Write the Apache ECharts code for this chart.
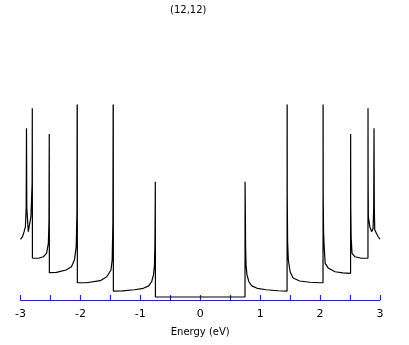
<!DOCTYPE html>
<html>
<head>
<meta charset="utf-8">
<script src="https://cdn.jsdelivr.net/npm/echarts@6/dist/echarts.min.js"></script>
<style>
  html, body { margin: 0; padding: 0; background: #fff; }
  #main { width: 409px; height: 345px; }
</style>
</head>
<body>
<div id="main"></div>
<script>
// energy (eV) and density of states
var energy = [
  -3.000, -2.967, -2.940, -2.918, -2.905, -2.900, -2.895, -2.870, -2.842, -2.826, -2.806, -2.803, -2.801,
  -2.780, -2.700, -2.620, -2.565, -2.535, -2.525, -2.520, -2.518,
  -2.400, -2.240, -2.150, -2.100, -2.070, -2.058, -2.053, -2.051,
  -1.900, -1.670, -1.560, -1.490, -1.470, -1.458, -1.452, -1.450,
  -1.300, -1.100, -0.950, -0.860, -0.810, -0.780, -0.765, -0.757, -0.752, -0.750, -0.748,
  0.747, 0.748, 0.752, 0.757, 0.765, 0.780, 0.810, 0.860, 0.950, 1.100, 1.300, 1.449,
  1.450, 1.452, 1.458, 1.470, 1.500, 1.550, 1.660, 1.830, 2.000, 2.049,
  2.050, 2.052, 2.058, 2.068, 2.085, 2.140, 2.250, 2.380, 2.509,
  2.510, 2.512, 2.518, 2.533, 2.580, 2.690, 2.799,
  2.800, 2.802, 2.806, 2.830, 2.860, 2.885, 2.895, 2.900, 2.905, 2.912, 2.940, 2.970, 3.000
];
var dos = [
  0.623, 0.649, 0.701, 0.752, 0.950, 1.761, 0.950, 0.701, 0.718, 0.854, 1.200, 1.966, 0.428,
  0.428, 0.428, 0.444, 0.479, 0.582, 0.800, 1.703, 0.280,
  0.283, 0.308, 0.342, 0.410, 0.547, 0.900, 2.500, 0.177,
  0.177, 0.198, 0.239, 0.308, 0.410, 0.800, 2.500, 0.092,
  0.094, 0.105, 0.120, 0.145, 0.190, 0.260, 0.350, 0.550, 0.950, 1.213, 0.031,
  0.031, 1.213, 0.950, 0.550, 0.350, 0.260, 0.190, 0.145, 0.120, 0.105, 0.095, 0.092,
  2.500, 1.080, 0.600, 0.410, 0.290, 0.225, 0.195, 0.182, 0.177, 0.177,
  2.500, 1.087, 0.700, 0.550, 0.376, 0.325, 0.290, 0.278, 0.274,
  1.703, 0.944, 0.649, 0.479, 0.444, 0.428, 0.428,
  1.966, 1.200, 0.854, 0.752, 0.701, 0.735, 0.950, 1.761, 0.950, 0.720, 0.684, 0.649, 0.623
];
var title = '(12,12)';
var xName = 'Energy (eV)';

var points = energy.map(function (e, i) { return [e, dos[i]]; });
var axisBlue = '#2424c8';

var chart = echarts.init(document.getElementById('main'));
chart.setOption({
  animation: false,
  title: {
    text: title,
    left: 165,
    top: 0,
    textStyle: { fontSize: 10, fontWeight: 'normal', color: '#000', fontFamily: 'DejaVu Sans' }
  },
  grid: { left: 20.5, right: 29, top: 105, bottom: 45 },
  xAxis: {
    type: 'value',
    min: -3,
    max: 3,
    interval: 1,
    name: xName,
    nameLocation: 'middle',
    nameGap: 27,
    nameTextStyle: { fontSize: 10, color: '#000', fontFamily: 'DejaVu Sans' },
    axisLine: { lineStyle: { color: axisBlue, width: 1 } },
    axisTick: { inside: true, length: 5, lineStyle: { color: axisBlue, width: 1.2 } },
    minorTick: { show: true, splitNumber: 2, length: 5, lineStyle: { color: axisBlue, width: 1.2 } },
    axisLabel: {
      color: '#000', fontSize: 11, margin: 9, fontFamily: 'DejaVu Sans',
      formatter: function (v) { return String(v); }
    },
    splitLine: { show: false }
  },
  yAxis: {
    type: 'value',
    min: 0,
    max: 2,
    show: false
  },
  series: [{
    type: 'line',
    data: points,
    showSymbol: false,
    symbol: 'none',
    clip: true,
    lineStyle: { color: '#000', width: 1.2 }
  }]
});
</script>
</body>
</html>
